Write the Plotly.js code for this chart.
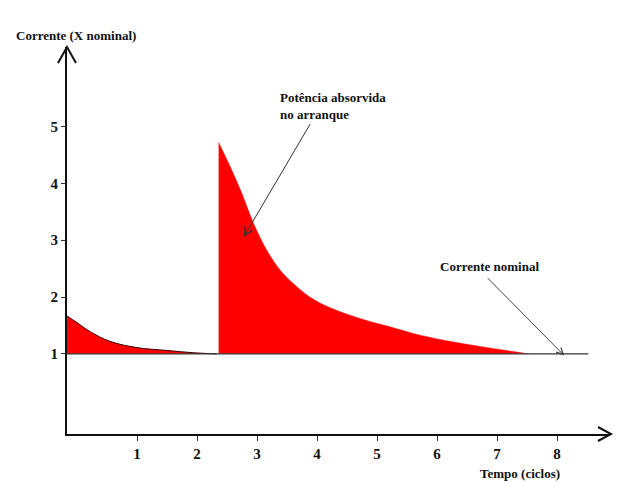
<!DOCTYPE html>
<html>
<head>
<meta charset="utf-8">
<script src="https://cdn.plot.ly/plotly-3.0.1.min.js"></script>
<style>html,body{margin:0;padding:0;background:#fff;}#chart{width:627px;height:483px;}</style>
</head>
<body>
<div id="chart"></div>
<script>
// Nominal current level (per unit)
const nominal = 1;

// Phase 1: initial transient (Tempo in ciclos, Corrente in X nominal)
const phase1X = [-0.17, 0.0, 0.22, 0.55, 1.0, 1.5, 1.94, 2.33];
const phase1Y = [1.67, 1.55, 1.39, 1.22, 1.11, 1.06, 1.02, 1.0];

// Phase 2: starting current (Potência absorvida no arranque)
const phase2X = [2.36, 2.55, 2.745, 2.94, 3.16, 3.38, 3.55, 3.88, 4.22, 4.55, 4.88, 5.2, 5.6, 6.16, 6.72, 7.27, 7.52];
const phase2Y = [4.72, 4.30, 3.83, 3.30, 2.83, 2.48, 2.29, 2.00, 1.81, 1.68, 1.57, 1.48, 1.36, 1.23, 1.13, 1.04, 1.0];

// Nominal current line extent
const nominalLineX = [-0.17, 8.52];

// Axis ticks
const xTicks = [1, 2, 3, 4, 5, 6, 7, 8];
const yTicks = [1, 2, 3, 4, 5];

// Annotation pointers: [headX, headY, tailX, tailY]
const arrowPotencia = [2.78, 3.06, 3.9, 5.07];
const arrowNominal = [8.12, 0.97, 6.82, 2.36];

const serif = 'Liberation Serif';

const base1 = phase1X.map(() => nominal);
const base2 = phase2X.map(() => nominal);

const traces = [
  {x: phase1X, y: base1, type: 'scatter', mode: 'lines',
   line: {color: 'rgba(0,0,0,0)', width: 0}, hoverinfo: 'skip'},
  {x: phase1X, y: phase1Y, type: 'scatter', mode: 'lines', fill: 'tonexty',
   fillcolor: '#ff0000', line: {color: '#3a0000', width: 1, shape: 'spline'}, hoverinfo: 'skip'},
  {x: phase2X, y: base2, type: 'scatter', mode: 'lines',
   line: {color: 'rgba(0,0,0,0)', width: 0}, hoverinfo: 'skip'},
  {x: phase2X, y: phase2Y, type: 'scatter', mode: 'lines', fill: 'tonexty',
   fillcolor: '#ff0000', line: {color: '#ff0000', width: 0.5, shape: 'spline'}, hoverinfo: 'skip'},
  {x: nominalLineX, y: [nominal, nominal], type: 'scatter', mode: 'lines',
   line: {color: '#333333', width: 1.3}, hoverinfo: 'skip'}
];

const layout = {
  width: 627, height: 483,
  margin: {l: 67, r: 17, t: 47, b: 49},
  paper_bgcolor: '#ffffff', plot_bgcolor: '#ffffff',
  showlegend: false,
  font: {family: serif},
  xaxis: {
    range: [-0.1667, 8.883], showgrid: false, zeroline: false,
    showline: true, linecolor: '#111', linewidth: 2,
    tickmode: 'array', tickvals: xTicks, ticktext: xTicks.map(v => '<b>' + v + '</b>'),
    ticks: 'outside', ticklen: 5, tickwidth: 1, tickcolor: '#333',
    tickfont: {family: serif, size: 15, color: '#111'},
    fixedrange: true
  },
  yaxis: {
    range: [-0.41, 6.40], showgrid: false, zeroline: false,
    showline: true, linecolor: '#111', linewidth: 2,
    tickmode: 'array', tickvals: yTicks, ticktext: yTicks.map(v => '<b>' + v + '</b>'),
    ticks: 'outside', ticklen: 4, tickwidth: 1, tickcolor: '#333',
    tickfont: {family: serif, size: 15, color: '#111'},
    fixedrange: true
  },
  shapes: [
    {type: 'path', xref: 'paper', yref: 'paper', xsizemode: 'pixel', ysizemode: 'pixel',
     xanchor: 0, yanchor: 1, path: 'M-9,-16 L0,0 L9,-16',
     line: {color: '#111', width: 2}},
    {type: 'path', xref: 'paper', yref: 'paper', xsizemode: 'pixel', ysizemode: 'pixel',
     xanchor: 1, yanchor: 0, path: 'M-12,7 L1,0 L-12,-7',
     line: {color: '#111', width: 2}}
  ],
  annotations: [
    {text: '<b>Corrente (X nominal)</b>', xref: 'paper', yref: 'paper',
     x: -0.098, y: 1.031, xanchor: 'left', yanchor: 'middle', showarrow: false,
     font: {family: serif, size: 13, color: '#111'}},
    {text: '<b>Tempo (ciclos)</b>', xref: 'paper', yref: 'paper',
     x: 0.757, y: -0.101, xanchor: 'left', yanchor: 'middle', showarrow: false,
     font: {family: serif, size: 13, color: '#111'}},
    {text: '<b>Potência absorvida</b><br><b>no arranque</b>', xref: 'x', yref: 'y',
     x: 3.35, y: 5.36, xanchor: 'left', yanchor: 'middle', align: 'left', showarrow: false,
     font: {family: serif, size: 13, color: '#111'}},
    {text: '<b>Corrente nominal</b>', xref: 'x', yref: 'y',
     x: 6.02, y: 2.53, xanchor: 'left', yanchor: 'middle', showarrow: false,
     font: {family: serif, size: 13, color: '#111'}},
    {text: '', xref: 'x', yref: 'y', axref: 'x', ayref: 'y',
     x: arrowPotencia[0], y: arrowPotencia[1], ax: arrowPotencia[2], ay: arrowPotencia[3],
     showarrow: true, arrowhead: 5, arrowsize: 1.6, arrowwidth: 1, arrowcolor: '#333'},
    {text: '', xref: 'x', yref: 'y', axref: 'x', ayref: 'y',
     x: arrowNominal[0], y: arrowNominal[1], ax: arrowNominal[2], ay: arrowNominal[3],
     showarrow: true, arrowhead: 5, arrowsize: 1.3, arrowwidth: 1, arrowcolor: '#444'}
  ]
};

Plotly.newPlot('chart', traces, layout, {displayModeBar: false, staticPlot: true});
</script>
</body>
</html>
